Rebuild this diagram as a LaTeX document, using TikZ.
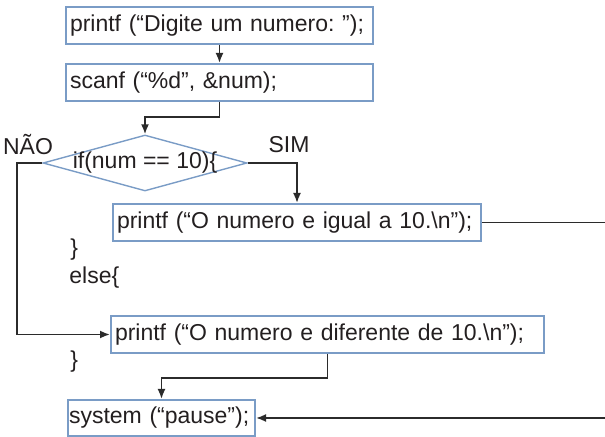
\documentclass[tikz,border=0pt]{standalone}
\usepackage{fontspec}
\setmainfont{Liberation Sans}
\usepackage{xcolor}
\usepackage{tikz}
\usetikzlibrary{arrows.meta, shapes.geometric}
\definecolor{boxline}{HTML}{7A9CC6}
\definecolor{wire}{HTML}{2B2B2B}
\definecolor{code}{HTML}{231F20}
\frenchspacing

\begin{document}
\begin{tikzpicture}[x=0.5pt, y=-0.5pt, font={\fontsize{11.5}{14}\selectfont}, text=code,
  cmd/.style={draw=boxline, line width=1pt, anchor=north west, align=left, inner xsep=2pt, inner ysep=0pt, minimum height=18.5pt},
  decision/.style={diamond, draw=boxline, line width=0.7pt, minimum width=102pt, minimum height=28pt, inner sep=0pt},
  fl/.style={-{Latex[length=5pt, width=4pt]}, line width=0.9pt, wire},
  brace/.style={anchor=west, inner sep=0pt}]
  \useasboundingbox (0,0) rectangle (605,437);
  \clip (0,0) rectangle (605,437);
  \node[cmd, text width=149.5pt] (msg) at (65,6) {printf (“Digite um numero: ”);};
  \node[cmd, text width=149.5pt] (read) at (65,63) {scanf (“\%d”, \&num);};
  \node[decision, label={center:if(num == 10)\{}] (if) at (145,163) {};
  \node (no) at (28,145) {NÃO};
  \node (yes) at (289,145) {SIM};
  \node[cmd, text width=180pt] (equal) at (112,203) {printf (“O numero e igual a 10.\textbackslash n”);};
  \node[brace] (close1) at (70,250) {\}};
  \node[brace] (else) at (69,278) {else\{};
  \node[cmd, text width=212.5pt] (diff) at (110,315) {printf (“O numero e diferente de 10.\textbackslash n”);};
  \node[brace] (close2) at (70,362) {\}};
  \node[cmd, text width=92.5pt, inner xsep=0.5pt, minimum height=18pt] (pause) at (67,399) {system (“pause”);};
  \draw[fl] (msg.south) -- (read.north);
  \draw[fl] (read.south) -- ++(0,15) -| (if.north);
  \draw[fl] (if.west) -- ++(-25,0) |- (diff.west);
  \draw[fl] (if.east) -| (equal.north);
  \draw[fl] (equal.east) -- ++(130,0) |- (pause.east);
  \draw[fl] (diff.south) -- ++(0,24) -| (pause.north);
\end{tikzpicture}
\end{document}
